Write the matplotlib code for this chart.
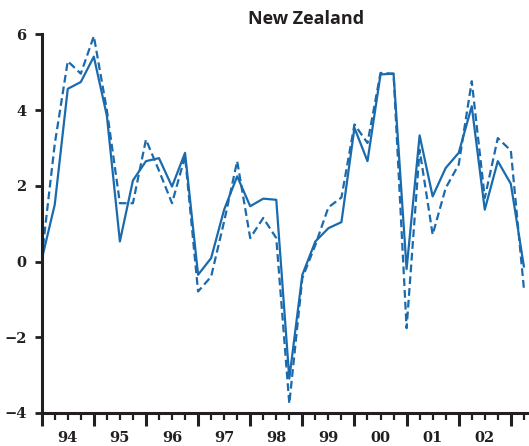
import numpy as np
import matplotlib
matplotlib.use("Agg")
import matplotlib.pyplot as plt
from matplotlib.ticker import FixedLocator, FixedFormatter

# quarterly series, 1994Q1 .. 2003Q2
years = ['94', '95', '96', '97', '98', '99', '00', '01', '02']
solid = [0.05, 1.5, 4.56, 4.74, 5.41, 3.85, 0.53, 2.14, 2.65, 2.73,
         1.98, 2.87, -0.35, 0.09, 1.37, 2.25, 1.46, 1.66, 1.63, -3.09,
         -0.35, 0.53, 0.88, 1.04, 3.53, 2.65, 4.94, 4.96, -0.2, 3.33,
         1.72, 2.47, 2.87, 4.10, 1.37, 2.65, 2.05, -0.13]
dashed = [0.1, 3.1, 5.29, 4.96, 5.95, 4.0, 1.54, 1.54, 3.22, 2.4,
          1.54, 2.78, -0.79, -0.40, 1.06, 2.65, 0.62, 1.15, 0.62, -3.75,
          -0.44, 0.44, 1.43, 1.69, 3.62, 3.13, 4.98, 4.96, -1.76, 2.95,
          0.71, 1.94, 2.56, 4.76, 1.68, 3.26, 2.93, -0.71]

t = 1994 + np.arange(len(solid)) / 4.0

blue = '#1a6aae'
dark = '#231f20'
tickfont = 'DejaVu Serif'

fig = plt.figure(figsize=(5.29, 4.46), dpi=100)
ax = fig.add_axes([41.7/529, 33/446, (527-41.7)/529, (413-34.3)/446])

ax.plot(t, solid, color=blue, lw=1.6)
ax.plot(t, dashed, color=blue, lw=1.6, ls=(0, (3.5, 1.8)))

ax.set_xlim(1994, 2003.31)
ax.set_ylim(-4, 6)

for s in ['top', 'right']:
    ax.spines[s].set_visible(False)
for s in ['left', 'bottom']:
    ax.spines[s].set_linewidth(2.2)
    ax.spines[s].set_color(dark)

ax.set_yticks([-4, -2, 0, 2, 4, 6])
ax.set_yticklabels(['\u22124', '\u22122', '0', '2', '4', '6'], family=tickfont,
                   fontweight='bold')
ax.tick_params(axis='y', direction='out', length=5, width=2, color=dark,
               labelsize=10.5, labelcolor=dark, pad=6)

# year boundaries as major ticks, quarters as minor ticks, labels mid-year
ax.xaxis.set_major_locator(FixedLocator(np.arange(1994, 2004)))
ax.xaxis.set_major_formatter(FixedFormatter([''] * 10))
qpos = 1994 + np.arange(1, 38) / 4.0
qpos = qpos[(qpos % 1) != 0]
qlab = []
for q in qpos:
    if abs(q % 1 - 0.5) < 1e-6:
        qlab.append(years[int(q) - 1994])
    else:
        qlab.append('')
ax.xaxis.set_minor_locator(FixedLocator(qpos))
ax.xaxis.set_minor_formatter(FixedFormatter(qlab))
ax.tick_params(axis='x', which='major', direction='out', length=9, width=2.2, color=dark)
ax.tick_params(axis='x', which='minor', direction='out', length=5, width=1.6, color=dark,
               labelsize=10.5, labelcolor=dark, pad=8)
for lab in ax.get_xticklabels(minor=True):
    lab.set_family(tickfont)
    lab.set_fontweight('bold')

fig.text(306/529, 1 - 19/446, 'New Zealand', ha='center', va='center',
         fontsize=13, fontweight='bold', color=dark, family='Open Sans')

fig.savefig('out.png', dpi=100)
